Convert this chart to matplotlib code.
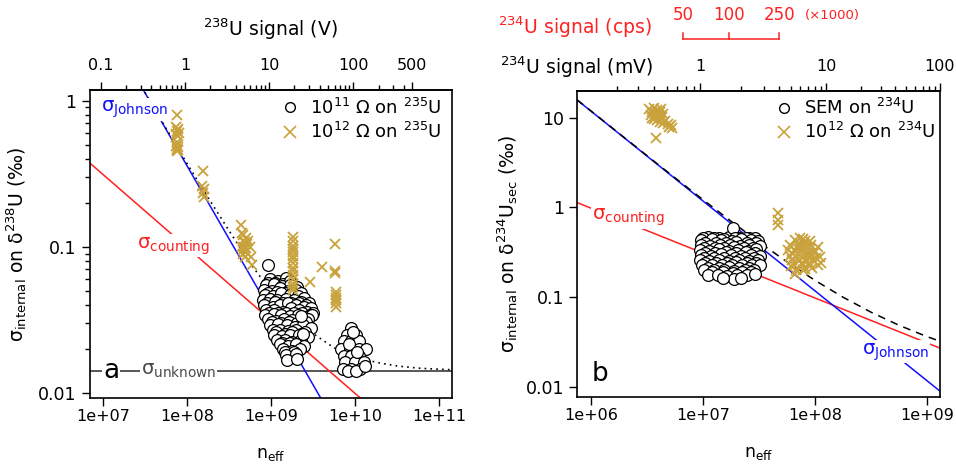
import numpy as np
import matplotlib.pyplot as plt
from matplotlib.lines import Line2D
from matplotlib.ticker import NullLocator, FixedLocator
from matplotlib.transforms import blended_transform_factory

plt.rcParams['font.family'] = ['DejaVu Sans']
plt.rcParams['mathtext.fontset'] = 'dejavusans'
plt.rcParams['mathtext.default'] = 'regular'

GOLD = '#C9A23C'
RED = '#FF2020'
BLUE = '#1010FF'
GREY = '#4A4A4A'

# ---------------------------- panel a : delta238U ---------------------------- #
# 10^11 ohm on 235U, main cluster (neff in 1e9)
a_circ1_neff = np.array([
    0.98, 1.21, 1.49,
    0.92, 1.12, 1.38, 1.70,
    0.87, 1.10, 1.36, 1.68, 2.02,
    0.82, 1.04, 1.29, 1.60, 1.98,
    0.93, 1.17, 1.45, 1.80, 2.25,
    0.85, 1.07, 1.33, 1.66, 2.10, 2.50,
    0.80, 0.97, 1.19, 1.50, 1.86, 2.30, 2.80,
    0.90, 1.12, 1.38, 1.72, 2.15, 2.60,
    0.83, 1.05, 1.28, 1.60, 2.00, 2.45, 3.00,
    0.88, 1.10, 1.40, 1.75, 2.15, 2.65, 3.15,
    0.95, 1.20, 1.50, 1.88, 2.35, 2.90,
    0.85, 1.08, 1.32, 1.70, 2.10, 2.60, 3.10,
    0.93, 1.15, 1.43, 1.78, 2.22, 2.75,
    1.02, 1.30, 1.65, 2.05, 2.60,
    0.98, 1.20, 1.55, 1.94, 2.40, 3.00,
    1.05, 1.28, 1.60, 2.00, 2.55,
    1.15, 1.45, 1.80, 2.30,
    1.10, 1.35, 1.69, 2.15, 2.75,
    1.18, 1.47, 1.80, 2.30,
    1.35, 1.70, 2.15,
    1.28, 1.60, 2.00, 2.45,
    1.40, 1.78, 2.22,
    1.45, 1.90,
    1.50, 2.00,
    1.55, 2.05,
    0.925, 2.30, 2.40]) * 1e9
a_circ1_sig = np.array([
    0.060, 0.058, 0.061,
    0.057, 0.057, 0.056, 0.058,
    0.055, 0.056, 0.054, 0.055, 0.053,
    0.051, 0.050, 0.052, 0.050, 0.051,
    0.0485, 0.049, 0.048, 0.0485, 0.048,
    0.047, 0.046, 0.048, 0.047, 0.046, 0.045,
    0.043, 0.044, 0.043, 0.044, 0.043, 0.042, 0.041,
    0.0415, 0.042, 0.041, 0.0415, 0.041, 0.040,
    0.040, 0.039, 0.040, 0.041, 0.040, 0.039, 0.038,
    0.037, 0.037, 0.036, 0.038, 0.037, 0.036, 0.035,
    0.0355, 0.035, 0.0355, 0.035, 0.0355, 0.034,
    0.034, 0.0345, 0.034, 0.0335, 0.034, 0.033, 0.034,
    0.032, 0.031, 0.032, 0.0315, 0.031, 0.032,
    0.0305, 0.030, 0.0305, 0.030, 0.0305,
    0.029, 0.0295, 0.029, 0.0285, 0.029, 0.028,
    0.027, 0.027, 0.0265, 0.027, 0.026,
    0.026, 0.0255, 0.026, 0.0255,
    0.025, 0.0245, 0.025, 0.025, 0.024,
    0.023, 0.023, 0.0225, 0.023,
    0.022, 0.022, 0.0215,
    0.0215, 0.021, 0.0215, 0.021,
    0.020, 0.0195, 0.020,
    0.019, 0.019,
    0.0182, 0.0185,
    0.0168, 0.017,
    0.075, 0.0335, 0.0255])

# 10^11 ohm on 235U, second cluster (neff in 1e9)
a_circ2_neff = np.array([9.0, 8.0, 10.3, 7.3, 9.0, 11.2, 6.8, 8.7, 11.0, 13.3,
                         7.3, 9.0, 11.2, 7.6, 10.0, 12.6, 7.1, 9.0, 11.5, 8.3,
                         10.3, 13.0, 9.5, 8.5, 10.5]) * 1e9
a_circ2_sig = np.array([0.0279, 0.025, 0.025, 0.0227, 0.0227, 0.0227, 0.0201, 0.0201, 0.0201, 0.0201,
                        0.018, 0.018, 0.018, 0.0164, 0.0164, 0.0164, 0.0147, 0.0147, 0.0147, 0.0141,
                        0.0141, 0.0152, 0.026, 0.0215, 0.019])

# 10^12 ohm on 235U
a_cross_neff = np.array([
    7.6e7, 7.5e7, 7.9e7, 7.7e7, 8.0e7, 7.4e7, 7.8e7, 7.6e7, 7.7e7, 7.5e7, 7.9e7, 7.6e7, 7.8e7, 7.7e7,
    1.56e8, 1.52e8, 1.60e8, 1.55e8, 1.58e8,
    4.4e8, 4.5e8, 4.7e8, 5.0e8, 4.6e8, 4.9e8, 5.2e8, 4.5e8, 4.8e8, 5.1e8, 4.7e8, 5.0e8, 4.6e8,
    5.3e8, 5.6e8, 5.8e8, 6.0e8, 4.9e8,
    1.84e9, 1.84e9, 1.84e9, 1.84e9, 1.84e9, 1.84e9, 1.84e9, 1.84e9, 1.84e9, 1.84e9, 1.84e9,
    1.84e9, 1.84e9, 1.84e9, 1.84e9,
    2.9e9, 4.05e9,
    5.8e9, 5.8e9, 5.8e9, 5.9e9, 5.9e9, 5.9e9, 5.9e9, 5.9e9, 5.9e9])
a_cross_sig = np.array([
    0.80, 0.66, 0.64, 0.62, 0.60, 0.59, 0.57, 0.52, 0.50, 0.49, 0.48, 0.47, 0.46, 0.45,
    0.33, 0.26, 0.25, 0.235, 0.22,
    0.14, 0.125, 0.12, 0.115, 0.11, 0.108, 0.105, 0.10, 0.10, 0.098, 0.095, 0.092, 0.09,
    0.11, 0.10, 0.085, 0.075, 0.085,
    0.117, 0.110, 0.102, 0.097, 0.092, 0.087, 0.082, 0.077, 0.072, 0.068, 0.064,
    0.060, 0.056, 0.053, 0.051,
    0.0575, 0.073,
    0.105, 0.068, 0.066, 0.049, 0.047, 0.045, 0.043, 0.041, 0.039])

# model lines of panel a
a_johnson_neff = [1e7, 1e10]
a_johnson_sig = [3.6, 0.0036]
a_counting_neff = [5e6, 2e11]
a_counting_sig = [0.444, 0.00222]
a_unknown_neff = [5e6, 2e11]
a_unknown_sig = [0.0142, 0.0142]
a_total_neff = [2.5e7, 3.0e7, 5.6e7, 1e8, 1.8e8, 3.2e8, 5.6e8, 1e9, 1.8e9, 3.2e9,
                5.6e9, 1e10, 1.8e10, 3.2e10, 5.6e10, 1e11, 1.6e11]
a_total_sig = [1.446, 1.205, 0.653, 0.373, 0.216, 0.128, 0.0778, 0.0498, 0.0341, 0.0254,
               0.0204, 0.0177, 0.0162, 0.0153, 0.0148, 0.01455, 0.0144]

# ---------------------------- panel b : delta234U ---------------------------- #
# SEM on 234U (neff in 1e7)
b_circ_neff = np.array([
    1.11, 1.38, 1.70, 2.10, 2.60,
    1.86,
    1.00, 1.25, 1.55, 1.92, 2.40, 2.90,
    0.96, 1.20, 1.45, 1.80, 2.20, 2.70, 3.10,
    1.05, 1.30, 1.60, 1.97, 2.45, 2.95,
    0.95, 1.15, 1.42, 1.75, 2.15, 2.60, 3.20,
    1.02, 1.27, 1.55, 1.90, 2.30, 2.80,
    0.93, 1.12, 1.38, 1.70, 2.05, 2.50, 3.00,
    1.03, 1.28, 1.60, 1.95, 2.40, 2.90,
    0.95, 1.18, 1.45, 1.78, 2.20, 2.70, 3.25,
    1.02, 1.25, 1.55, 1.92, 2.35, 2.85,
    0.94, 1.13, 1.40, 1.72, 2.10, 2.55, 3.10,
    1.05, 1.30, 1.62, 1.98, 2.45, 2.95,
    0.97, 1.20, 1.48, 1.83, 2.25, 2.75, 3.20,
    1.10, 1.38, 1.70, 2.10, 2.60,
    1.02, 1.25, 1.55, 1.90, 2.35, 2.85,
    1.20, 1.50, 1.85, 2.25, 2.70,
    1.10, 1.35, 1.65, 2.00, 2.45, 2.90,
    1.90, 2.20, 1.50]) * 1e7
b_circ_sig = np.array([
    0.47, 0.46, 0.47, 0.45, 0.46,
    0.585,
    0.45, 0.45, 0.445, 0.45, 0.455, 0.45,
    0.43, 0.44, 0.43, 0.42, 0.44, 0.43, 0.42,
    0.405, 0.40, 0.405, 0.41, 0.40, 0.405,
    0.38, 0.37, 0.385, 0.38, 0.37, 0.38, 0.375,
    0.355, 0.35, 0.355, 0.36, 0.35, 0.355,
    0.335, 0.33, 0.34, 0.33, 0.335, 0.33, 0.34,
    0.313, 0.31, 0.315, 0.31, 0.315, 0.31,
    0.295, 0.29, 0.30, 0.295, 0.29, 0.295, 0.29,
    0.275, 0.272, 0.275, 0.27, 0.275, 0.272,
    0.26, 0.255, 0.26, 0.25, 0.26, 0.255, 0.26,
    0.242, 0.24, 0.242, 0.245, 0.24, 0.242,
    0.227, 0.23, 0.225, 0.23, 0.225, 0.23, 0.225,
    0.212, 0.21, 0.215, 0.21, 0.212,
    0.20, 0.198, 0.20, 0.195, 0.20, 0.198,
    0.188, 0.19, 0.186, 0.188, 0.19,
    0.178, 0.175, 0.172, 0.175, 0.178, 0.18,
    0.16, 0.165, 0.165])

# 10^12 ohm on 234U
b_cross_neff = np.array([
    3.3e6, 3.6e6, 3.9e6, 4.2e6, 3.5e6, 3.8e6, 4.1e6, 4.4e6, 3.4e6, 3.7e6, 4.0e6, 4.3e6,
    3.6e6, 3.9e6, 4.2e6, 4.6e6, 4.9e6, 5.2e6, 4.4e6, 5.0e6, 5.3e6, 3.8e6, 4.1e6, 3.5e6,
    4.7e7, 4.7e7, 4.7e7,
    6.65e7, 7.8e7, 9.1e7,
    6.0e7, 7.0e7, 8.0e7, 9.3e7, 10.7e7,
    5.7e7, 6.65e7, 7.6e7, 8.7e7, 10.0e7,
    6.0e7, 7.0e7, 8.0e7, 9.3e7, 11.0e7,
    6.2e7, 7.2e7, 8.4e7, 9.6e7,
    6.5e7, 7.8e7, 9.1e7, 10.7e7,
    6.8e7, 8.2e7, 6.65e7, 7.4e7, 8.8e7, 7.3e7,
    7.3e7, 8.5e7, 6.3e7, 7.1e7, 8.6e7, 9.8e7, 7.6e7, 8.9e7, 6.9e7, 8.1e7,
    10.2e7, 6.1e7, 9.5e7, 7.9e7, 11.3e7])
b_cross_sig = np.array([
    12.5, 12.8, 12.2, 12.6, 11.6, 11.2, 11.5, 11.0, 10.8, 10.3, 10.6, 10.1,
    9.6, 9.4, 9.8, 9.2, 8.6, 8.2, 8.8, 7.8, 7.6, 6.0, 9.0, 9.9,
    0.86, 0.72, 0.63,
    0.43, 0.44, 0.42,
    0.38, 0.37, 0.39, 0.38, 0.36,
    0.335, 0.33, 0.34, 0.32, 0.33,
    0.29, 0.30, 0.29, 0.285, 0.28,
    0.26, 0.255, 0.25, 0.26,
    0.227, 0.23, 0.22, 0.225,
    0.20, 0.205, 0.18, 0.46, 0.31, 0.35,
    0.39, 0.36, 0.31, 0.27, 0.28, 0.31, 0.24, 0.24, 0.35, 0.42,
    0.27, 0.22, 0.21, 0.20, 0.24])

# model lines of panel b
b_johnson_neff = [5e5, 2e9]
b_johnson_sig = [23.5, 0.00587]
b_counting_neff = [5e5, 2e9]
b_counting_sig = [1.382, 0.02185]
b_total_neff = [7.45e5, 1.78e6, 3.16e6, 5.62e6, 1e7, 1.78e7, 3.16e7, 5.62e7,
                1e8, 1.78e8, 3.16e8, 5.62e8, 1e9, 1.32e9]
b_total_sig = [15.82, 6.647, 3.755, 2.129, 1.215, 0.700, 0.410, 0.247,
               0.1536, 0.0998, 0.068, 0.0486, 0.0363, 0.0321]

# top axes
volt_ticks = [0.1, 1, 10, 100, 500]
volt_minor = [0.2, 0.3, 0.4, 0.5, 0.6, 0.7, 0.8, 0.9, 2, 3, 4, 5, 6, 7, 8, 9,
              20, 30, 40, 50, 60, 70, 80, 90, 200, 300, 400]
neff_per_volt = 9.5e7
mv_ticks = [1, 10, 100]
mv_minor = [0.3, 0.4, 0.5, 0.6, 0.7, 0.8, 0.9, 2, 3, 4, 5, 6, 7, 8, 9,
            20, 30, 40, 50, 60, 70, 80, 90]
cps_ticks = [50, 100, 250]
cps_neff = [6.6e6, 1.72e7, 4.79e7]


def mv_to_neff(mv):
    mv = np.maximum(np.asarray(mv, dtype=float), 1e-9)
    return 1.32e7 * mv ** 2 / (mv + 0.4)


def neff_to_mv(n):
    n = np.maximum(np.asarray(n, dtype=float), 1e-9)
    return (n + np.sqrt(n ** 2 + 4 * 1.32e7 * 0.4 * n)) / (2 * 1.32e7)


def base_style(ax):
    for s in ax.spines.values():
        s.set_linewidth(1.2)
    ax.set_xscale('log')
    ax.set_yscale('log')
    ax.xaxis.set_minor_locator(NullLocator())
    ax.tick_params(axis='x', which='major', direction='out', length=6, width=1,
                   labelsize=11.5, pad=2)
    ax.tick_params(axis='y', which='major', direction='out', length=6, width=1,
                   labelsize=12.5, pad=4)
    ax.tick_params(axis='y', which='minor', direction='out', length=3.5, width=1)


fig = plt.figure(figsize=(9.56, 4.69), dpi=100)
axa = fig.add_axes([90 / 956, 1 - 398 / 469, 362 / 956, 308 / 469])
axb = fig.add_axes([577 / 956, 1 - 397.3 / 469, 363 / 956, 306.6 / 469])

lab_box = dict(facecolor='white', edgecolor='none', pad=0.5)
circ_kw = dict(ls='none', marker='o', ms=8.5, mfc='white', mec='black', mew=0.9, zorder=3)
cross_kw = dict(ls='none', marker='x', ms=7.5, mew=1.3, color=GOLD, zorder=3)

# ----- panel a -----
base_style(axa)
axa.plot(a_unknown_neff, a_unknown_sig, color=GREY, lw=1.3, zorder=2)
axa.plot(a_counting_neff, a_counting_sig, color=RED, lw=1.1, zorder=2)
axa.plot(a_johnson_neff, a_johnson_sig, color=BLUE, lw=1.1, zorder=2)
axa.plot(a_total_neff, a_total_sig, color='black', lw=1.2, ls=(0, (1, 2.5)), zorder=2)
axa.plot(a_circ1_neff, a_circ1_sig, **circ_kw)
axa.plot(a_circ2_neff, a_circ2_sig, **circ_kw)
axa.plot(a_cross_neff, a_cross_sig, **cross_kw)

axa.set_xlim(10 ** 6.849, 10 ** 11.151)
axa.set_ylim(10 ** -2.034, 10 ** 0.073)
axa.set_xticks([1e7, 1e8, 1e9, 1e10, 1e11])
axa.set_xticklabels(['1e+07', '1e+08', '1e+09', '1e+10', '1e+11'])
axa.set_yticks([0.01, 0.1, 1])
axa.set_yticklabels(['0.01', '0.1', '1'])
axa.yaxis.set_minor_locator(FixedLocator(
    [m * d for d in (0.01, 0.1) for m in range(2, 10)]))
axa.yaxis.set_minor_formatter(plt.NullFormatter())
axa.set_xlabel(r'$n_{eff}$', fontsize=12.5, labelpad=15)
axa.set_ylabel(r'$\sigma_{internal}$ on $\delta^{238}$U (‰)', fontsize=13.5, labelpad=6)

axa.text(0.030, 0.938, r'$\sigma_{Johnson}$', color=BLUE, fontsize=14,
         transform=axa.transAxes, ha='left', va='center', bbox=lab_box, zorder=4)
axa.text(0.130, 0.494, r'$\sigma_{counting}$', color=RED, fontsize=14,
         transform=axa.transAxes, ha='left', va='center', bbox=lab_box, zorder=4)
axa.text(0.141, 0.088, r'$\sigma_{unknown}$', color=GREY, fontsize=14,
         transform=axa.transAxes, ha='left', va='center', bbox=lab_box, zorder=4)
axa.text(0.058, 0.088, 'a', color='black', fontsize=19,
         transform=axa.transAxes, ha='center', va='center', bbox=lab_box, zorder=4)

handles_a = [Line2D([], [], ls='none', marker='o', ms=7, mfc='white', mec='black', mew=1),
             Line2D([], [], ls='none', marker='x', ms=8, mew=1.2, color=GOLD)]
axa.legend(handles_a, [r'$10^{11}\ \Omega$ on $^{235}$U', r'$10^{12}\ \Omega$ on $^{235}$U'],
           loc='upper left', bbox_to_anchor=(0.528, 0.975), frameon=False, fontsize=13,
           handlelength=1.0, handletextpad=0.6, borderaxespad=0, borderpad=0,
           labelspacing=0.25)

seca = axa.secondary_xaxis('top', functions=(lambda n: np.asarray(n) / neff_per_volt,
                                             lambda v: np.asarray(v) * neff_per_volt))
seca.set_xticks(volt_ticks)
seca.set_xticklabels(['0.1', '1', '10', '100', '500'])
seca.set_xticks(volt_minor, minor=True)
seca.xaxis.set_minor_formatter(plt.NullFormatter())
seca.tick_params(which='major', length=6, width=1, labelsize=11.5, pad=6)
seca.tick_params(which='minor', length=3.5, width=1)
seca.spines['top'].set_linewidth(1.2)
fig.text(270 / 956, 1 - 29 / 469, r'$^{238}$U signal (V)', fontsize=13.5,
         ha='center', va='center')

# ----- panel b -----
base_style(axb)
axb.plot(b_counting_neff, b_counting_sig, color=RED, lw=1.1, zorder=2)
axb.plot(b_johnson_neff, b_johnson_sig, color=BLUE, lw=1.1, zorder=2)
axb.plot(b_total_neff, b_total_sig, color='black', lw=1.1, ls=(0, (5, 4)), zorder=2)
axb.plot(b_circ_neff, b_circ_sig, **circ_kw)
axb.plot(b_cross_neff, b_cross_sig, **cross_kw)

axb.set_xlim(10 ** 5.872, 10 ** 9.119)
axb.set_ylim(10 ** -2.118, 10 ** 1.301)
axb.set_xticks([1e6, 1e7, 1e8, 1e9])
axb.set_xticklabels(['1e+06', '1e+07', '1e+08', '1e+09'])
axb.set_yticks([0.01, 0.1, 1, 10])
axb.set_yticklabels(['0.01', '0.1', '1', '10'])
axb.yaxis.set_minor_locator(NullLocator())
axb.tick_params(axis='y', which='major', pad=3)
axb.set_xlabel(r'$n_{eff}$', fontsize=12.5, labelpad=15)
axb.set_ylabel(r'$\sigma_{internal}$ on $\delta^{234}U_{sec}$ (‰)', fontsize=13.5, labelpad=4)

axb.text(0.041, 0.588, r'$\sigma_{counting}$', color=RED, fontsize=14,
         transform=axb.transAxes, ha='left', va='center', bbox=lab_box, zorder=4)
axb.text(0.785, 0.148, r'$\sigma_{Johnson}$', color=BLUE, fontsize=14,
         transform=axb.transAxes, ha='left', va='center', bbox=lab_box, zorder=4)
axb.text(0.063, 0.076, 'b', color='black', fontsize=19,
         transform=axb.transAxes, ha='center', va='center', zorder=4)

handles_b = [Line2D([], [], ls='none', marker='o', ms=7, mfc='white', mec='black', mew=1),
             Line2D([], [], ls='none', marker='x', ms=8, mew=1.2, color=GOLD)]
axb.legend(handles_b, [r'SEM on $^{234}$U', r'$10^{12}\ \Omega$ on $^{234}$U'],
           loc='upper left', bbox_to_anchor=(0.545, 0.977), frameon=False, fontsize=13,
           handlelength=1.0, handletextpad=0.6, borderaxespad=0, borderpad=0,
           labelspacing=0.25)

secb = axb.secondary_xaxis('top', functions=(neff_to_mv, mv_to_neff))
secb.set_xticks(mv_ticks)
secb.set_xticklabels(['1', '10', '100'])
secb.set_xticks(mv_minor, minor=True)
secb.xaxis.set_minor_formatter(plt.NullFormatter())
secb.tick_params(which='major', length=6, width=1, labelsize=11.5, pad=6)
secb.tick_params(which='minor', length=3.5, width=1)
secb.spines['top'].set_linewidth(1.2)
fig.text(653 / 956, 1 - 67 / 469, r'$^{234}$U signal (mV)', fontsize=13.5,
         ha='right', va='center')

# red cps scale above panel b
tr = blended_transform_factory(axb.transData, fig.transFigure)
y_line = 1 - 39.3 / 469
y_tick = 1 - 33.3 / 469
axb.plot([cps_neff[0], cps_neff[-1]], [y_line, y_line], color=RED, lw=1.1,
         transform=tr, clip_on=False)
for n, c in zip(cps_neff, cps_ticks):
    axb.plot([n, n], [y_line, y_tick], color=RED, lw=1.1, transform=tr, clip_on=False)
    axb.text(n, 1 - 15 / 469, str(c), color=RED, fontsize=12, ha='center', va='center',
             transform=tr)
fig.text(832 / 956, 1 - 16 / 469, '(\u00d71000)', color=RED, fontsize=9.5,
         ha='center', va='center')
fig.text(652 / 956, 1 - 27 / 469, r'$^{234}$U signal (cps)', color=RED, fontsize=13.5,
         ha='right', va='center')

fig.savefig('out.png', dpi=100)
